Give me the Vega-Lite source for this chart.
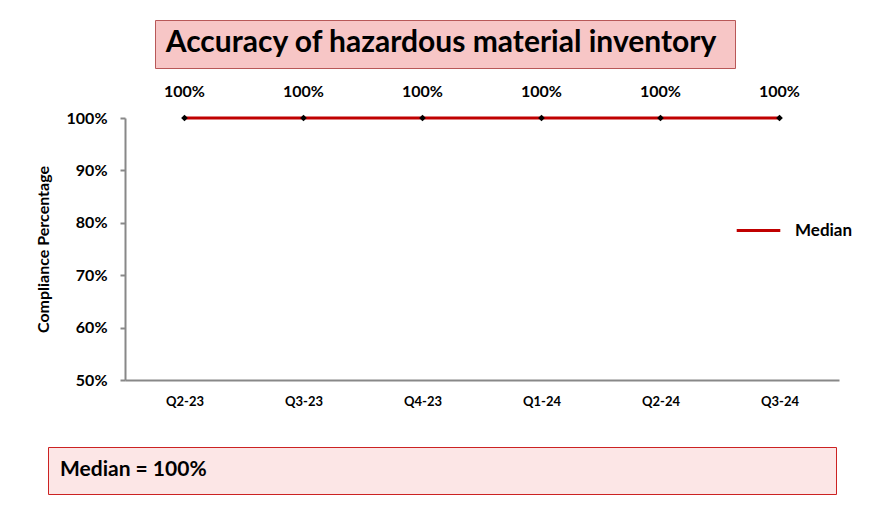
{
  "$schema": "https://vega.github.io/schema/vega-lite/v6.json",
  "width": 714,
  "height": 262,
  "autosize": "none",
  "padding": {"left": 125, "top": 118, "right": 44, "bottom": 152},
  "background": "white",
  "config": {
    "view": {"stroke": null},
    "font": "Lato"
  },
  "data": {
    "values": [
      {"Quarter": "Q2-23", "Value": 1.0},
      {"Quarter": "Q3-23", "Value": 1.0},
      {"Quarter": "Q4-23", "Value": 1.0},
      {"Quarter": "Q1-24", "Value": 1.0},
      {"Quarter": "Q2-24", "Value": 1.0},
      {"Quarter": "Q3-24", "Value": 1.0}
    ]
  },
  "encoding": {
    "x": {
      "field": "Quarter",
      "type": "ordinal",
      "sort": null,
      "scale": {"type": "point", "padding": 0.5},
      "axis": {
        "title": null,
        "labelAngle": 0,
        "labelFont": "Lato",
        "labelFontWeight": "bold",
        "labelFontSize": 13,
        "labelColor": "black",
        "labelPadding": 15,
        "ticks": false,
        "domainColor": "#888888",
        "domainWidth": 2
      }
    },
    "y": {
      "field": "Value",
      "type": "quantitative",
      "scale": {"domain": [0.5, 1.0]},
      "axis": {
        "title": "Compliance Percentage",
        "titleFont": "Lato",
        "titleFontWeight": "bold",
        "titleFontSize": 16,
        "titleColor": "black",
        "titlePadding": 15,
        "values": [0.5, 0.6, 0.7, 0.8, 0.9, 1.0],
        "format": ".0%",
        "grid": false,
        "labelFont": "Lato",
        "labelFontWeight": "bold",
        "labelFontSize": 16,
        "labelColor": "black",
        "labelPadding": 13,
        "tickSize": 5,
        "tickColor": "#888888",
        "tickWidth": 2,
        "domainColor": "#888888",
        "domainWidth": 2
      }
    }
  },
  "layer": [
    {
      "mark": {"type": "line", "strokeWidth": 3},
      "encoding": {
        "color": {
          "datum": "Median",
          "type": "nominal",
          "scale": {"range": ["#C00000"]},
          "legend": {
            "title": null,
            "orient": "none",
            "legendX": 610,
            "legendY": 89,
            "symbolType": "stroke",
            "symbolSize": 1900,
            "symbolStrokeWidth": 3,
            "labelFont": "Lato",
            "labelFontWeight": "bold",
            "labelFontSize": 17,
            "labelColor": "black",
            "labelOffset": 13,
            "padding": 0
          }
        }
      }
    },
    {
      "mark": {"type": "point", "shape": "diamond", "filled": true, "size": 45, "opacity": 1},
      "encoding": {
        "fill": {
          "field": "Value",
          "type": "quantitative",
          "scale": {"domain": [0, 1], "range": ["black", "black"]},
          "legend": {
            "type": "gradient",
            "title": "Accuracy of hazardous material inventory",
            "orient": "none",
            "direction": "horizontal",
            "legendX": 30,
            "legendY": -98,
            "titleOrient": "top",
            "titleAnchor": "middle",
            "titleLimit": 1000,
            "titleFont": "Lato",
            "titleFontWeight": "bold",
            "titleFontSize": 30,
            "titleColor": "black",
            "titlePadding": 0,
            "gradientLength": 564,
            "gradientThickness": 1,
            "gradientOpacity": 0,
            "gradientStrokeWidth": 0,
            "labelOpacity": 0,
            "labelFontSize": 1,
            "labelOffset": 0,
            "padding": 8,
            "fillColor": "#F7C6C6",
            "strokeColor": "#B85858"
          }
        }
      }
    },
    {
      "mark": {"type": "text", "dy": -26, "font": "Lato", "fontWeight": "bold", "fontSize": 16, "strokeWidth": 0},
      "encoding": {
        "text": {"field": "Value", "type": "quantitative", "format": ".0%"},
        "stroke": {
          "field": "Value",
          "type": "quantitative",
          "scale": {"domain": [0, 2], "range": ["black", "black"]},
          "legend": {
            "type": "gradient",
            "title": "Median = 100%",
            "orient": "none",
            "direction": "horizontal",
            "legendX": -77,
            "legendY": 329,
            "titleOrient": "top",
            "titleAnchor": "start",
            "titleLimit": 1000,
            "titleFont": "Lato",
            "titleFontWeight": "bold",
            "titleFontSize": 21,
            "titleColor": "black",
            "titlePadding": 0,
            "gradientLength": 764,
            "gradientThickness": 1,
            "gradientOpacity": 0,
            "gradientStrokeWidth": 0,
            "labelOpacity": 0,
            "labelFontSize": 1,
            "labelOffset": 0,
            "padding": 12,
            "fillColor": "#FCE6E6",
            "strokeColor": "#CC2222"
          }
        }
      }
    }
  ]
}
